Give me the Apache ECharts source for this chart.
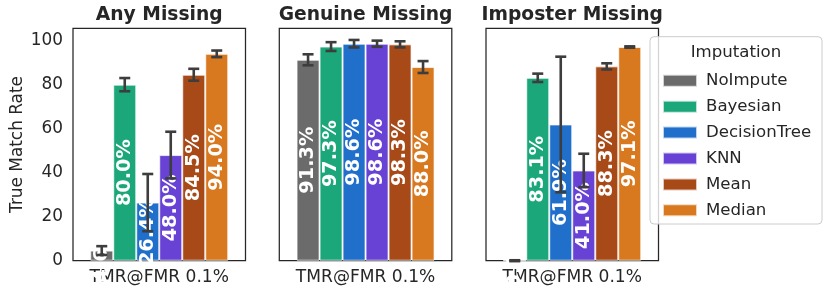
<!DOCTYPE html>
<html>
<head>
<meta charset="utf-8">
<script src="https://cdn.jsdelivr.net/npm/echarts@6/dist/echarts.min.js"></script>
<style>html,body{margin:0;padding:0;background:#fff;}#c{width:830px;height:296px;}</style>
</head>
<body>
<div id="c"></div>
<script>
const categories = ['TMR@FMR 0.1%'];
const panelTitles = ['Any Missing', 'Genuine Missing', 'Imposter Missing'];
const methods = ['NoImpute', 'Bayesian', 'DecisionTree', 'KNN', 'Mean', 'Median'];
const anyMissing = [4.6, 80.0, 26.4, 48.0, 84.5, 94.0];
const anyMissingErr = [2.0, 3.0, 13.0, 10.6, 2.7, 1.5];
const genuineMissing = [91.3, 97.3, 98.6, 98.6, 98.3, 88.0];
const genuineMissingErr = [2.5, 2.0, 1.7, 1.4, 1.4, 2.7];
const imposterMissing = [0.0, 83.1, 61.9, 41.0, 88.3, 97.1];
const imposterMissingErr = [0.2, 1.9, 30.8, 7.6, 1.4, 0.3];
const yTicks = [0, 20, 40, 60, 80, 100];

const colors = ['#6b6b6b', '#1ba779', '#1f6fcb', '#6842d4', '#a84a18', '#d8781f'];
const FONT = 'DejaVu Sans';
const TXT = '#262626';
const panelValues = [anyMissing, genuineMissing, imposterMissing];
const panelErrs = [anyMissingErr, genuineMissingErr, imposterMissingErr];
const gridLefts = [73, 279.3, 486];
const gridW = 172.5;
const gridTop = 28.3;
const gridH = 232.4;
const yMax = 105.6;

const chart = echarts.init(document.getElementById('c'), null, {renderer: 'canvas'});

const grids = [], xAxes = [], yAxes = [], series = [], graphics = [];
for (let p = 0; p < 3; p++) {
  grids.push({left: gridLefts[p], top: gridTop, width: gridW, height: gridH, show: true,
    borderColor: TXT, borderWidth: 1.25, backgroundColor: '#fff'});
  xAxes.push({type: 'category', gridIndex: p, data: categories,
    axisLine: {show: false}, axisTick: {show: false},
    axisLabel: {fontFamily: FONT, fontSize: 17.1, color: TXT, margin: 8}});
  yAxes.push({type: 'value', gridIndex: p, min: 0, max: yMax, interval: 20,
    splitLine: {show: false}, axisLine: {show: false}, axisTick: {show: false},
    axisLabel: {show: p === 0, fontFamily: FONT, fontSize: 16.9, color: TXT, margin: 10,
      showMaxLabel: false,
      formatter: v => (yTicks.indexOf(v) >= 0 ? String(v) : '')},
    name: p === 0 ? 'True Match Rate' : '', nameLocation: 'middle', nameGap: 47,
    nameRotate: 90, nameTextStyle: {fontFamily: FONT, fontSize: 16.9, color: TXT}});
  methods.forEach((m, j) => {
    series.push({type: 'bar', name: m, xAxisIndex: p, yAxisIndex: p,
      data: [panelValues[p][j]], barGap: '0%', barCategoryGap: '20%',
      itemStyle: {color: colors[j], borderColor: 'rgba(255,255,255,0.7)', borderWidth: 1},
      label: {show: true, position: 'inside', rotate: 90, color: '#fff',
        fontFamily: FONT, fontWeight: 'bold', fontSize: 19.3,
        formatter: d => d.value.toFixed(1) + '%'},
      emphasis: {disabled: true}, z: 2});
  });
  const errData = methods.map((m, j) => [0, panelValues[p][j], panelErrs[p][j], j]);
  series.push({type: 'custom', xAxisIndex: p, yAxisIndex: p, data: errData, z: 10,
    encode: {x: 0, y: 1}, silent: true, clip: false,
    renderItem: (params, api) => {
      const v = api.value(1), e = api.value(2), j = api.value(3);
      const c = api.coord([0, v]);
      const band = api.size([1, 0])[0];
      const bw = band * 0.8 / methods.length;
      const cx = c[0] + (j - (methods.length - 1) / 2) * bw;
      const hi = api.coord([0, v + e])[1];
      const lo = api.coord([0, v - e])[1];
      const st = {stroke: '#3d3d3d', lineWidth: 2.6};
      const cap = 5.5;
      return {type: 'group', children: [
        {type: 'line', shape: {x1: cx, y1: hi, x2: cx, y2: lo}, style: st},
        {type: 'line', shape: {x1: cx - cap, y1: hi, x2: cx + cap, y2: hi}, style: st},
        {type: 'line', shape: {x1: cx - cap, y1: lo, x2: cx + cap, y2: lo}, style: st}
      ]};
    }});
  graphics.push({type: 'text', x: gridLefts[p] + gridW / 2, y: 15, z: 100,
    style: {text: panelTitles[p], fontFamily: FONT, fontWeight: 'bold', fontSize: 18.7,
      fill: TXT, align: 'center', verticalAlign: 'middle'}});
}

graphics.push({type: 'rect', z: 50, shape: {x: 650, y: 36.7, width: 172, height: 187.3, r: 4},
  style: {fill: 'rgba(255,255,255,0.8)', stroke: '#cccccc', lineWidth: 1}});
graphics.push({type: 'text', z: 60, x: 736, y: 52.7,
  style: {text: 'Imputation', fontFamily: FONT, fontSize: 16.6, fill: TXT,
    align: 'center', verticalAlign: 'middle'}});

chart.setOption({
  animation: false,
  backgroundColor: '#fff',
  grid: grids, xAxis: xAxes, yAxis: yAxes, series: series,
  legend: {data: methods, orient: 'vertical', left: 657, top: 66.8, z: 70,
    itemWidth: 34, itemHeight: 12, itemGap: 7.9, icon: 'rect', selectedMode: false,
    textStyle: {fontFamily: FONT, fontSize: 16.6, color: TXT, lineHeight: 18, padding: [0, 0, 0, 4]}},
  graphic: graphics
});
</script>
</body>
</html>
